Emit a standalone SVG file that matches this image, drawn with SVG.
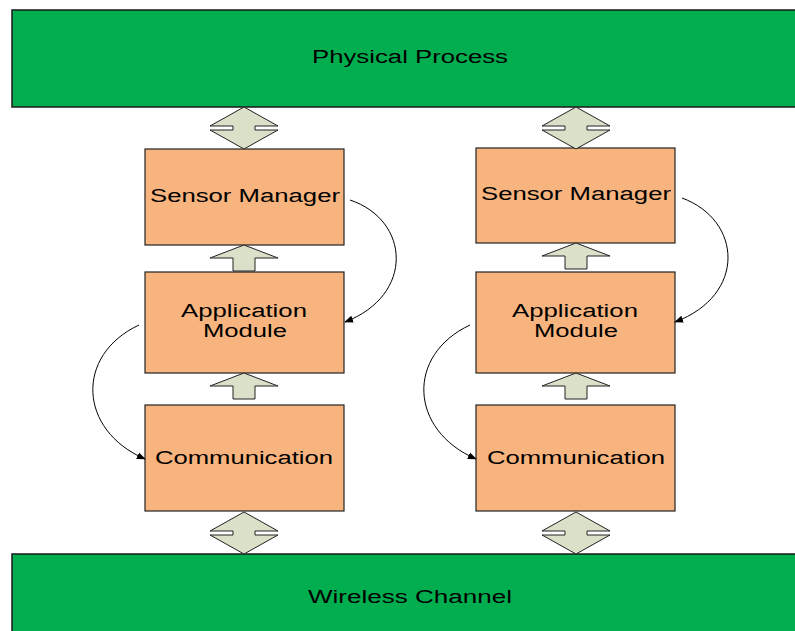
<svg xmlns="http://www.w3.org/2000/svg" width="795" height="631" viewBox="0 0 795 631">
<style>
.band{fill:#00ae50;stroke:#1a1a1a;stroke-width:1.5}
.box{fill:#f8b47e;stroke:#222;stroke-width:1.2}
.arr{fill:#dbe0c9;stroke:#222;stroke-width:1}
.lbl{font-family:"Liberation Sans",Arial,sans-serif;font-size:18px;fill:#000;text-anchor:middle}
.curve{fill:none;stroke:#000;stroke-width:1}
</style>
<defs>
<marker id="ah" viewBox="0 0 10 10" refX="9" refY="5" markerWidth="9" markerHeight="9" markerUnits="userSpaceOnUse" orient="auto">
<path d="M0,1 L10,5 L0,9 Z" fill="#000"/>
</marker>
<path id="dbl" class="arr" d="M0,0 L34,19 L11,19 L11,23 L34,23 L0,42 L-34,23 L-11,23 L-11,19 L-34,19 Z"/>
<path id="up" class="arr" d="M0,0 L34,13 L11,13 L11,26 L-11,26 L-11,13 L-34,13 Z"/>
</defs>
<g id="physical-process">
<rect class="band" x="12" y="10" width="800" height="97"/>
<text class="lbl" x="410" y="63" textLength="196" lengthAdjust="spacingAndGlyphs">Physical Process</text>
</g>
<g id="wireless-channel">
<rect class="band" x="12" y="554" width="800" height="90"/>
<text class="lbl" x="410" y="603" textLength="204" lengthAdjust="spacingAndGlyphs">Wireless Channel</text>
</g>
<g id="sensor-manager-1">
<rect class="box" x="145" y="149" width="199" height="96"/>
<text class="lbl" x="245" y="202" textLength="190" lengthAdjust="spacingAndGlyphs">Sensor Manager</text>
</g>
<g id="application-module-1">
<rect class="box" x="145" y="272" width="199" height="101"/>
<text class="lbl" x="244" y="317" textLength="126" lengthAdjust="spacingAndGlyphs">Application</text>
<text class="lbl" x="245" y="337" textLength="84" lengthAdjust="spacingAndGlyphs">Module</text>
</g>
<g id="communication-1">
<rect class="box" x="145" y="405" width="199" height="106"/>
<text class="lbl" x="244" y="464" textLength="178" lengthAdjust="spacingAndGlyphs">Communication</text>
</g>
<g id="sensor-manager-2">
<rect class="box" x="476" y="148" width="199" height="95"/>
<text class="lbl" x="576" y="200" textLength="190" lengthAdjust="spacingAndGlyphs">Sensor Manager</text>
</g>
<g id="application-module-2">
<rect class="box" x="476" y="272" width="199" height="101"/>
<text class="lbl" x="575" y="317" textLength="126" lengthAdjust="spacingAndGlyphs">Application</text>
<text class="lbl" x="576" y="337" textLength="84" lengthAdjust="spacingAndGlyphs">Module</text>
</g>
<g id="communication-2">
<rect class="box" x="476" y="405" width="199" height="106"/>
<text class="lbl" x="576" y="464" textLength="178" lengthAdjust="spacingAndGlyphs">Communication</text>
</g>
<g id="connectors">
<use href="#dbl" x="244" y="107"/>
<use href="#dbl" x="576" y="107"/>
<use href="#dbl" x="244" y="512"/>
<use href="#dbl" x="576" y="512"/>
<use href="#up" x="244" y="245"/>
<use href="#up" x="244" y="373"/>
<use href="#up" x="576" y="243"/>
<use href="#up" x="576" y="373"/>
<path class="curve" d="M350,200 C410,220 415,295 345,322" marker-end="url(#ah)"/>
<path class="curve" d="M682,198 C742,220 747,295 675,322" marker-end="url(#ah)"/>
<path class="curve" d="M139,325 C75,355 78,430 145,459" marker-end="url(#ah)"/>
<path class="curve" d="M470,325 C406,355 409,430 476,459" marker-end="url(#ah)"/>
</g>
</svg>
